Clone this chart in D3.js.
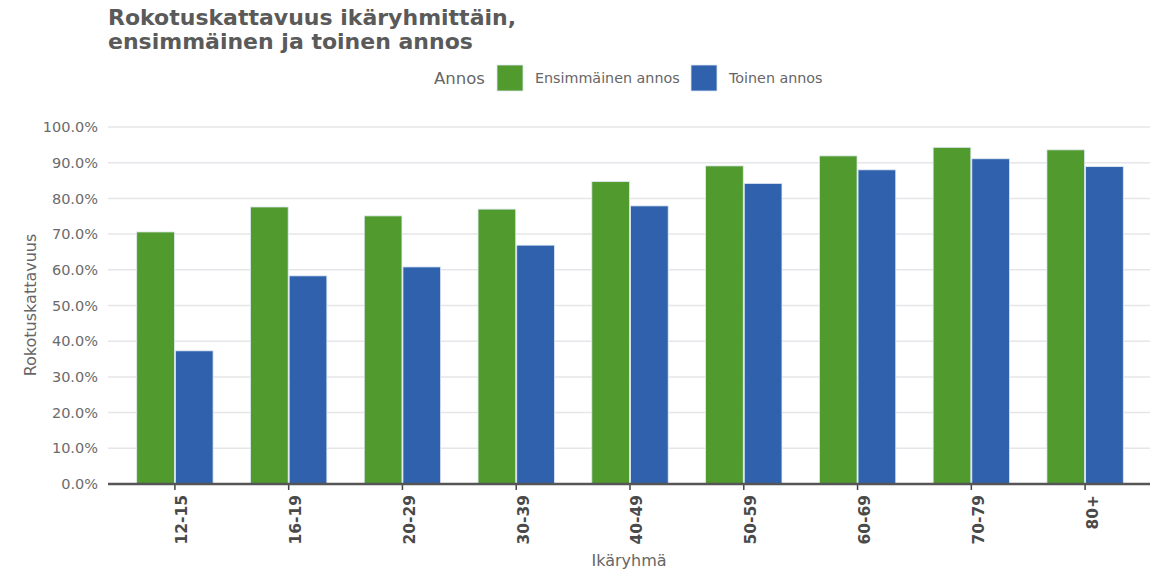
<!DOCTYPE html>
<html>
<head>
<meta charset="utf-8">
<script src="https://cdn.jsdelivr.net/npm/d3@7"></script>
<style>
  body { margin: 0; background: #fff; }
  text { font-family: "DejaVu Sans", sans-serif; }
</style>
</head>
<body>
<div id="chart"></div>
<script>
// data
var ageGroups = ['12-15', '16-19', '20-29', '30-39', '40-49', '50-59', '60-69', '70-79', '80+'];
var seriesNames = ['Ensimmäinen annos', 'Toinen annos'];
var firstDose = [70.6, 77.6, 75.1, 77.0, 84.7, 89.1, 91.9, 94.3, 93.6];
var secondDose = [37.3, 58.3, 60.8, 66.9, 77.9, 84.2, 88.0, 91.1, 88.9];
var yTicks = [0, 10, 20, 30, 40, 50, 60, 70, 80, 90, 100];
var colors = ['#519a2e', '#2f61ad'];

var width = 1155, height = 570;
var plot = { left: 108, right: 1150, top: 127, bottom: 484 };

var svg = d3.select('#chart').append('svg')
  .attr('width', width).attr('height', height);

var x = d3.scaleBand().domain(ageGroups)
  .range([118, 1142]).paddingInner(0.32).paddingOuter(0.16);
var x1 = d3.scaleBand().domain(seriesNames).range([0, x.bandwidth()]);
var y = d3.scaleLinear().domain([0, 100]).range([plot.bottom, plot.top]);

// grid
svg.append('g').selectAll('line').data(yTicks).join('line')
  .attr('x1', plot.left).attr('x2', plot.right)
  .attr('y1', function (d) { return y(d); }).attr('y2', function (d) { return y(d); })
  .attr('stroke', '#e6e6ea').attr('stroke-width', 1.5);

// y tick labels
var yAxis = svg.append('g').attr('transform', 'translate(' + plot.left + ',0)')
  .call(d3.axisLeft(y).tickValues(yTicks).tickSize(0).tickPadding(10)
    .tickFormat(function (d) { return d.toFixed(1) + '%'; }));
yAxis.select('.domain').remove();
yAxis.selectAll('text').attr('fill', '#6b6b6b').style('font-size', '14.5px');

// bars
var rows = ageGroups.map(function (g, i) {
  return { group: g, values: [firstDose[i], secondDose[i]] };
});
var groups = svg.append('g').selectAll('g').data(rows).join('g')
  .attr('transform', function (d) { return 'translate(' + x(d.group) + ',0)'; });
groups.selectAll('rect').data(function (d) {
  return d.values.map(function (v, k) { return { name: seriesNames[k], k: k, v: v }; });
}).join('rect')
  .attr('x', function (d) { return x1(d.name) + 0.5; })
  .attr('width', x1.bandwidth() - 1)
  .attr('y', function (d) { return y(d.v); })
  .attr('height', function (d) { return y(0) - y(d.v); })
  .attr('fill', function (d) { return colors[d.k]; })
  .attr('stroke', '#dfe9f3').attr('stroke-width', 0.8);

// x axis
var xAxis = svg.append('g').attr('transform', 'translate(0,' + plot.bottom + ')')
  .call(d3.axisBottom(x).tickSize(6).tickSizeOuter(0));
xAxis.select('.domain').remove();
xAxis.selectAll('.tick line').attr('stroke', '#444').attr('stroke-width', 1.5);
xAxis.selectAll('text')
  .attr('transform', 'rotate(-90)')
  .attr('x', -11).attr('y', 0).attr('dy', '0.8em')
  .attr('text-anchor', 'end')
  .attr('fill', '#4a4a4a')
  .style('font-size', '15.5px').style('font-weight', 'bold');
svg.append('line')
  .attr('x1', plot.left).attr('x2', plot.right)
  .attr('y1', plot.bottom).attr('y2', plot.bottom)
  .attr('stroke', '#555').attr('stroke-width', 2.5);

// axis titles
svg.append('text').attr('x', 629).attr('y', 566).attr('text-anchor', 'middle')
  .attr('fill', '#666').style('font-size', '16px').text('Ikäryhmä');
svg.append('text').attr('transform', 'translate(36,305) rotate(-90)')
  .attr('text-anchor', 'middle').attr('fill', '#666').style('font-size', '16px')
  .text('Rokotuskattavuus');

// title
var title = svg.append('text').attr('x', 108).attr('y', 25)
  .attr('fill', '#5a5a5a').style('font-size', '22px').style('font-weight', 'bold');
title.append('tspan').attr('x', 108).attr('y', 25).text('Rokotuskattavuus ikäryhmittäin,');
title.append('tspan').attr('x', 108).attr('y', 49).text('ensimmäinen ja toinen annos');

// legend
var legend = svg.append('g');
legend.append('text').attr('x', 434).attr('y', 84).attr('fill', '#666')
  .style('font-size', '16.5px').text('Annos');
var legendX = [497, 691];
seriesNames.forEach(function (name, k) {
  legend.append('rect').attr('x', legendX[k]).attr('y', 65).attr('width', 26).attr('height', 26)
    .attr('fill', colors[k]).attr('stroke', '#dfe9f3').attr('stroke-width', 0.8);
  legend.append('text').attr('x', legendX[k] + 38).attr('y', 83).attr('fill', '#666')
    .style('font-size', '14.3px').text(name);
});
</script>
</body>
</html>
